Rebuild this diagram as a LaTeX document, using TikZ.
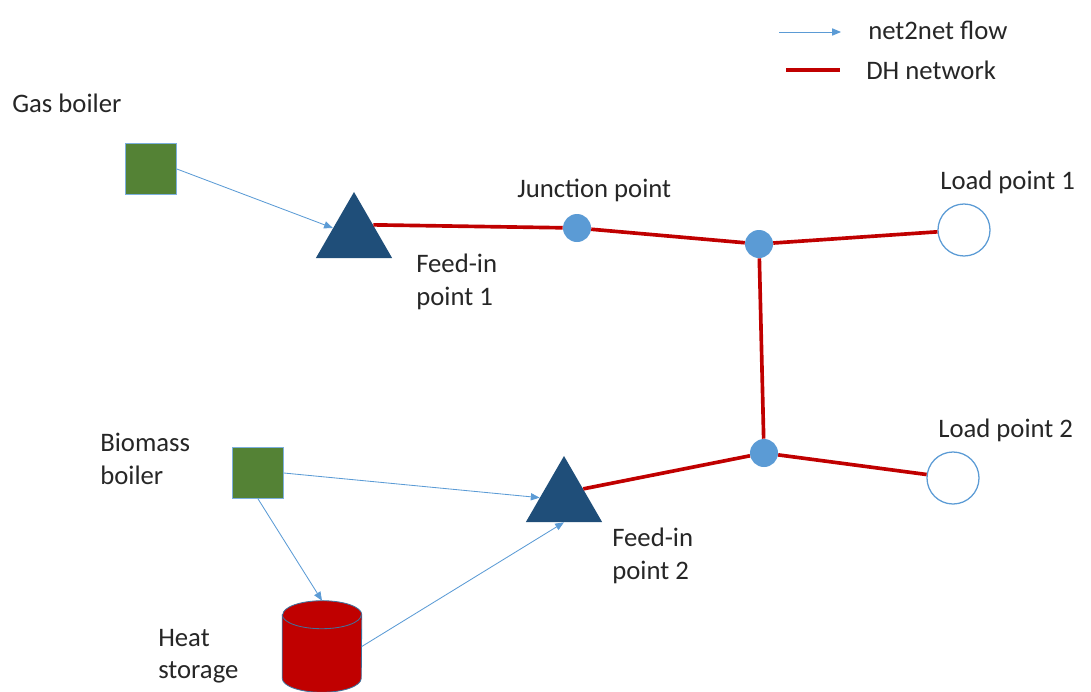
\documentclass[tikz,border=0pt]{standalone}
\usepackage{fontspec}
\setmainfont{Carlito}
\usetikzlibrary{arrows.meta,positioning,shapes.geometric}
\definecolor{Moss}{HTML}{548235}
\definecolor{Navy}{HTML}{1F4E79}
\definecolor{Sky}{HTML}{5B9BD5}
\definecolor{Steel}{HTML}{41719C}
\definecolor{PipeRed}{HTML}{C00000}
\definecolor{Ink}{HTML}{262626}

\begin{document}
\begin{tikzpicture}[
  x=0.025cm, y=-0.025cm,
  font=\fontsize{19}{23}\selectfont,
  source/.style={
    draw=Sky!80,
    line width=0.5pt,
    fill=Moss,
    minimum size=1.275cm,
    inner sep=0pt
  },
  feedin/.style={
    regular polygon,
    regular polygon sides=3,
    fill=Navy,
    minimum size=2.2cm,
    inner sep=0pt
  },
  joint/.style={circle,fill=Sky,minimum size=0.7cm,inner sep=0pt},
  sink/.style={circle,draw=Sky,line width=0.9pt,fill=white,minimum size=1.3cm,inner sep=0pt},
  tank/.style={minimum width=1.975cm,minimum height=2.275cm,inner sep=0pt},
  tankwall/.style={draw=Steel,line width=0.6pt,fill=PipeRed},
  txt/.style={anchor=west,inner sep=0pt,align=left,text=Ink},
  flow/.style={-{Triangle[length=2.2mm,width=1.8mm]},line width=0.6pt,color=Sky},
  pipe/.style={line width=2.6pt,color=PipeRed}
]
\useasboundingbox (0,0) rectangle (1091,691);

% units and producers
\node[source] (gas) at (151,169) {};
\node[source] (bio) at (258,473) {};
\node[tank] (store) at (322,646.5) {};
\filldraw[tankwall] ([yshift=-0.35cm]store.north west) -- ([yshift=0.35cm]store.south west)
  arc[start angle=180,end angle=360,x radius=0.9875cm,y radius=0.35cm]
  -- ([yshift=-0.35cm]store.north east)
  arc[start angle=0,end angle=180,x radius=0.9875cm,y radius=0.35cm] -- cycle;
\draw[tankwall,fill=none] ([yshift=-0.35cm]store.north west)
  arc[start angle=180,end angle=360,x radius=0.9875cm,y radius=0.35cm];

% network
\node[feedin] (feed1) at (354,236) {};
\node[feedin] (feed2) at (564,500) {};
\node[joint] (junc1) at (577,228) {};
\node[joint] (junc2) at (759,244) {};
\node[joint] (junc3) at (764,453) {};
\node[sink] (load1) at (964,230) {};
\node[sink] (load2) at (953,478) {};

% labels
\node[txt] (lgas) at (12,103) {Gas boiler};
\node[txt] (lbio) at (100,459) {Biomass\\boiler};
\node[txt] (lstore) at (158,656) {Heat\\storage};
\node[txt] (lfeed1) at (416,282) {Feed-in\\point 1};
\node[txt] (lfeed2) at (612,556) {Feed-in\\point 2};
\node[txt] (ljunc) at (517,190) {Junction point};
\node[txt] (lload1) at (940,182) {Load point 1};
\node[txt] (lload2) at (938,430) {Load point 2};

% legend
\coordinate (flowA) at (779,32);
\coordinate (flowB) at (841,32);
\coordinate (pipeA) at (786,70);
\coordinate (pipeB) at (840,70);
\node[txt] (lflow) at (868,30) {net2net flow};
\node[txt] (lpipe) at (866,70) {DH network};
\draw[flow] (flowA) -- (flowB);
\draw[pipe] (pipeA) -- (pipeB);

\draw[pipe] (feed1.side 3) -- (junc1);
\draw[pipe] (junc1) -- (junc2);
\draw[pipe] (junc2) -- (load1);
\draw[pipe] (junc2) -- (junc3);
\draw[pipe] (junc3) -- (load2);
\draw[pipe] (feed2.side 3) -- (junc3);

\draw[flow] (gas.east) -- (feed1);
\draw[flow] (bio.east) -- (feed2);
\draw[flow] (bio.south) -- (store.north);
\draw[flow] (store.east) -- (feed2.south);
\end{tikzpicture}
\end{document}
